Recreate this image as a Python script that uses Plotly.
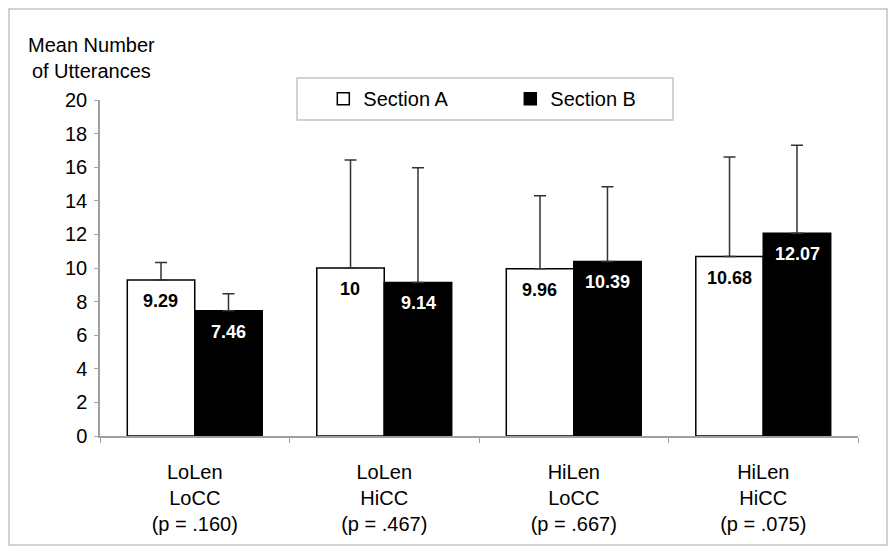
import plotly.graph_objects as go

categories = ["LoLen<br>LoCC<br>(p = .160)", "LoLen<br>HiCC<br>(p = .467)",
              "HiLen<br>LoCC<br>(p = .667)", "HiLen<br>HiCC<br>(p = .075)"]
section_a = [9.29, 10, 9.96, 10.68]
section_b = [7.46, 9.14, 10.39, 12.07]
err_a = [1.03, 6.43, 4.34, 5.92]
err_b = [1.01, 6.83, 4.45, 5.23]
label_a = ["9.29", "10", "9.96", "10.68"]
label_b = ["7.46", "9.14", "10.39", "12.07"]
y_ticks = list(range(0, 21, 2))

FONT = "Arial, 'Liberation Sans', sans-serif"

# page body has an 8px margin: figure is 888x544 so it fits the 896x552 window
W, H = 888, 544
L, T, PW, PH = 92, 92, 758, 336

fig = go.Figure()
fig.add_trace(go.Bar(
    name="Section A", x=categories, y=section_a,
    marker=dict(color="white", line=dict(color="black", width=1.5)),
    error_y=dict(type="data", array=err_a, arrayminus=[0]*4, symmetric=False,
                 color="#333333", thickness=1.5, width=6),
))
fig.add_trace(go.Bar(
    name="Section B", x=categories, y=section_b,
    marker=dict(color="black", line=dict(color="black", width=1.5)),
    error_y=dict(type="data", array=err_b, arrayminus=[0]*4, symmetric=False,
                 color="#333333", thickness=1.5, width=6),
))

annotations = []
for c, v, t in zip(categories, section_a, label_a):
    annotations.append(dict(x=c, y=v, xref="x", yref="y", text="<b>%s</b>" % t,
                            showarrow=False, xshift=-34, yshift=-9, yanchor="top",
                            font=dict(family=FONT, size=18, color="black")))
for c, v, t in zip(categories, section_b, label_b):
    annotations.append(dict(x=c, y=v, xref="x", yref="y", text="<b>%s</b>" % t,
                            showarrow=False, xshift=34, yshift=-9, yanchor="top",
                            font=dict(family=FONT, size=18, color="white")))
annotations.append(dict(xref="paper", yref="paper", x=-0.0112, y=1.049,
                        xanchor="center", yanchor="bottom", showarrow=False,
                        text="Mean Number<br>of Utterances",
                        font=dict(family=FONT, size=20, color="black")))

def px(xp):
    return (xp - L) / PW

def py(yp):
    return (T + PH - yp) / PH

fig.update_layout(
    width=W, height=H,
    margin=dict(l=L, r=W - L - PW, t=T, b=H - T - PH),
    paper_bgcolor="white", plot_bgcolor="white",
    barmode="group", bargap=0.288, bargroupgap=0,
    font=dict(family=FONT, size=20, color="black"),
    showlegend=True,
    legend=dict(orientation="h", x=0.2946, y=1.062, xanchor="left", yanchor="top",
                bgcolor="rgba(0,0,0,0)", borderwidth=0,
                entrywidth=142, entrywidthmode="pixels",
                font=dict(family=FONT, size=20, color="black")),
    annotations=annotations,
    shapes=[
        dict(type="rect", xref="paper", yref="paper",
             x0=px(1), x1=px(879), y0=py(537), y1=py(1),
             line=dict(color="#c4c4c4", width=1.5), fillcolor="rgba(0,0,0,0)", layer="below"),
        dict(type="rect", xref="paper", yref="paper",
             x0=px(289), x1=px(665), y0=py(112), y1=py(70),
             line=dict(color="#c4c4c4", width=1.5), fillcolor="white", layer="below"),
    ],
)
fig.update_xaxes(
    showline=True, linecolor="#a0a0a0", linewidth=1.5,
    ticks="outside", tickson="boundaries", ticklen=5, tickcolor="#a0a0a0",
    showgrid=False, ticklabelstandoff=17,
    tickfont=dict(family=FONT, size=20, color="black"),
)
fig.update_yaxes(
    range=[0, 20], tickvals=y_ticks, showline=True, linecolor="#a0a0a0", linewidth=1.5,
    ticks="outside", ticklen=4, tickcolor="#a0a0a0", showgrid=False, zeroline=False,
    ticklabelstandoff=3,
    tickfont=dict(family=FONT, size=20, color="black"),
)
fig.write_html("out.html")
